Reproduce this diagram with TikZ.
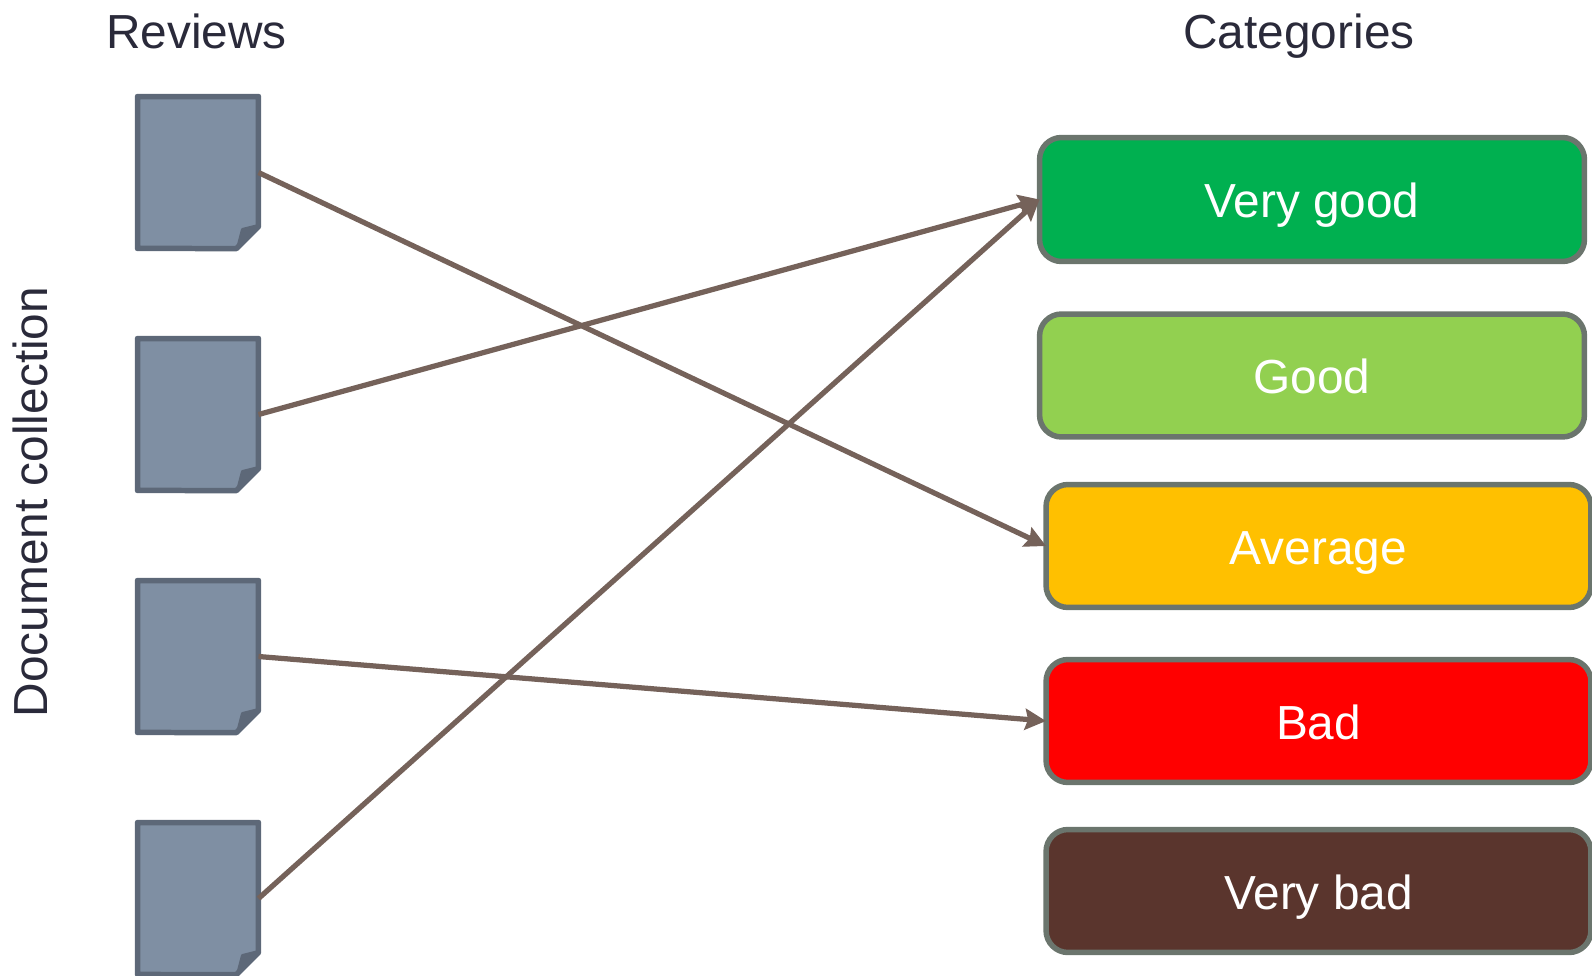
\documentclass[tikz,border=0pt]{standalone}
\usepackage{fontspec}
\setmainfont{Liberation Sans}
\usepackage{xcolor}
\usetikzlibrary{arrows.meta}
\definecolor{docfill}{HTML}{7F8FA3}
\definecolor{docedge}{HTML}{5D6878}
\definecolor{boxedge}{HTML}{6B756D}
\definecolor{linkcol}{HTML}{75625A}
\definecolor{headcol}{HTML}{2A2A3A}
\definecolor{verygoodcol}{HTML}{00B050}
\definecolor{goodcol}{HTML}{92D050}
\definecolor{averagecol}{HTML}{FFC000}
\definecolor{badcol}{HTML}{FF0000}
\definecolor{verybadcol}{HTML}{5A352D}
\tikzset{
  headtext/.style={anchor=base,inner sep=0pt,text=headcol,font=\fontsize{27.2}{32}\selectfont},
  docnode/.style={minimum width=2.42cm,minimum height=3.04cm,inner sep=0pt,outer sep=0pt},
  docline/.style={draw=docedge,fill=docfill,line width=0.11cm,line join=round},
  foldline/.style={draw=docedge,fill=docedge,line width=0.06cm,line join=round},
  catbox/.style={draw=boxedge,line width=0.11cm,rounded corners=0.44cm,minimum width=10.9cm,
    inner sep=0pt,outer sep=0pt,text=white,text height=0.74cm,text depth=0pt,
    font=\fontsize{27.2}{32}\selectfont},
  link/.style={draw=linkcol,line width=0.105cm,-{Stealth[length=0.42cm,width=0.42cm,inset=0.06cm]}}
}
\begin{document}
\begin{tikzpicture}[x=0.02cm,y=-0.02cm]
\useasboundingbox (0,0) rectangle (1592,976);

\node[headtext] (reviews) at (196.5,49) {Reviews};
\node[headtext] (categories) at (1299,49) {Categories};
\node[headtext,rotate=90] (collection) at (47,502) {Document collection};

\foreach \i/\ypos in {1/172.5,2/414.5,3/656.5,4/898.5}{
\node[docnode] (doc\i) at (198,\ypos) {};
\draw[docline] (doc\i.north west)--(doc\i.north east)--++(0,130)--++(-22,22)--(doc\i.south west)--cycle;
\draw[foldline] (doc\i.south east)++(-21,0)--++(5,-19)--++(16,-4)--cycle;
}

\node[catbox,fill=verygoodcol,minimum height=2.48cm] (verygood) at (1312,199.5) {Very good};
\node[catbox,fill=goodcol,minimum height=2.46cm] (good) at (1312,375.5) {Good};
\node[catbox,fill=averagecol,minimum height=2.46cm] (average) at (1318.5,546) {Average};
\node[catbox,fill=badcol,minimum height=2.46cm] (bad) at (1318.5,721) {Bad};
\node[catbox,fill=verybadcol,minimum height=2.46cm] (verybad) at (1318.5,891) {Very bad};

\draw[link] (doc1.east)--(average.west);
\draw[link] (doc2.east)--(verygood.west);
\draw[link] (doc3.east)--(bad.west);
\draw[link] (doc4.east)--(verygood.west);

\end{tikzpicture}
\end{document}
